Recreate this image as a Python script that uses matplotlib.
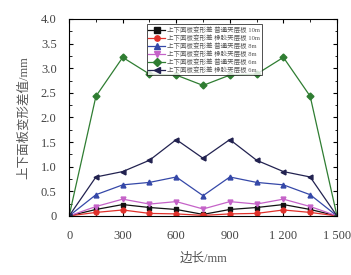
import matplotlib.pyplot as plt
from matplotlib.ticker import MultipleLocator, FixedLocator

plt.rcParams['font.family'] = ['Liberation Serif', 'Noto Sans CJK SC']
plt.rcParams['axes.unicode_minus'] = False

x = [0, 150, 300, 450, 600, 750, 900, 1050, 1200, 1350, 1500]

pt10 = [0, 0.13, 0.23, 0.17, 0.13, 0.03, 0.13, 0.17, 0.23, 0.13, 0]
xj10 = [0, 0.07, 0.12, 0.05, 0.04, 0.01, 0.04, 0.05, 0.12, 0.07, 0]
pt8 = [0, 0.43, 0.63, 0.68, 0.79, 0.41, 0.79, 0.68, 0.63, 0.43, 0]
xj8 = [0, 0.19, 0.34, 0.24, 0.29, 0.14, 0.29, 0.24, 0.34, 0.19, 0]
pt6 = [0, 2.43, 3.22, 2.88, 2.86, 2.65, 2.86, 2.88, 3.22, 2.43, 0]
xj6 = [0, 0.79, 0.90, 1.13, 1.55, 1.17, 1.55, 1.13, 0.90, 0.79, 0]

labels = [
    "上下面板变形差 普通夹层板 10m",
    "上下面板变形差 橡胶夹层板 10m",
    "上下面板变形差 普通夹层板 8m",
    "上下面板变形差 橡胶夹层板 8m",
    "上下面板变形差 普通夹层板 6m",
    "上下面板变形差 橡胶夹层板 6m",
]

series = [pt10, xj10, pt8, xj8, pt6, xj6]
colors = ["#111111", "#e0302a", "#3548a8", "#c563c8", "#2f7d32", "#222250"]
markers = ["s", "o", "^", "v", "D", "<"]

fig = plt.figure(figsize=(3.51, 2.75), dpi=100)
ax = fig.add_axes([0.197, 0.215, 0.763, 0.716])

for ys, c, m, lab in zip(series, colors, markers, labels):
    ax.plot(x, ys, color=c, marker=m, markersize=3.5, linewidth=0.9, label=lab)

ax.set_xlim(0, 1500)
ax.set_ylim(0, 4.0)
ax.xaxis.set_major_locator(FixedLocator([0, 300, 600, 900, 1200, 1500]))
ax.set_xticklabels(["0", "300", "600", "900", "1 200", "1 500"])
ax.xaxis.set_minor_locator(MultipleLocator(150))
ax.yaxis.set_minor_locator(MultipleLocator(0.25))
ax.set_yticks([0, 0.5, 1.0, 1.5, 2.0, 2.5, 3.0, 3.5, 4.0])
ax.set_yticklabels(["0", "0.5", "1.0", "1.5", "2.0", "2.5", "3.0", "3.5", "4.0"])

ax.tick_params(which="both", direction="in", top=True, right=True,
               labelsize=9, labelcolor="#444444")
ax.tick_params(axis="x", which="major", pad=10)
ax.tick_params(axis="y", which="major", pad=9)
ax.tick_params(which="major", length=3)
ax.tick_params(which="minor", length=1.8)
for s in ax.spines.values():
    s.set_linewidth(0.8)

ax.set_xlabel("边长/mm", fontsize=9, color="#555555", labelpad=8)
ax.set_ylabel("上下面板变形差值/mm", fontsize=9, color="#555555", labelpad=8)

leg = ax.legend(loc="upper center", bbox_to_anchor=(0.505, 0.99), fontsize=4.7,
                frameon=True, fancybox=False, edgecolor="black",
                handlelength=2.6, borderpad=0.3, labelspacing=0.2,
                handletextpad=0.3, markerscale=1.1)
leg.get_frame().set_linewidth(0.6)
for t in leg.get_texts():
    t.set_color("#555555")

plt.savefig("out.png", dpi=100)
